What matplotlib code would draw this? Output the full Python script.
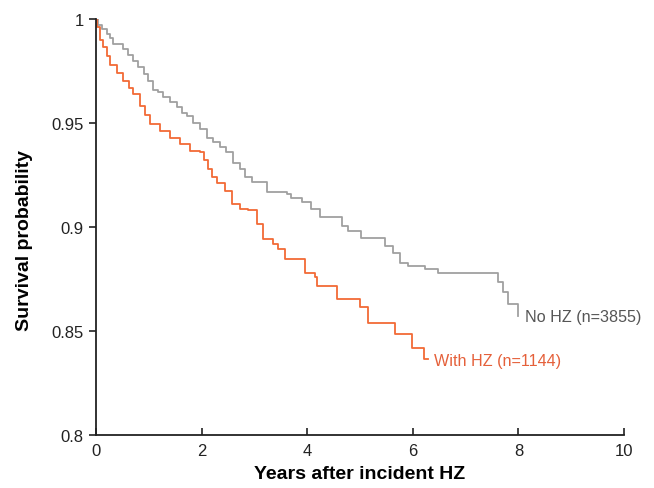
import matplotlib
matplotlib.use("Agg")
import matplotlib.pyplot as plt

plt.rcParams['font.family'] = ['Liberation Sans', 'DejaVu Sans']

# No HZ group (Kaplan-Meier step estimates)
no_hz_t = [0.0, 0.03, 0.12, 0.20, 0.27, 0.33, 0.52, 0.61, 0.71, 0.80, 0.90, 0.99,
           1.08, 1.18, 1.27, 1.40, 1.53, 1.62, 1.72, 1.84, 1.97, 2.10, 2.22, 2.35,
           2.47, 2.60, 2.73, 2.82, 2.95, 3.23, 3.61, 3.70, 3.90, 4.08, 4.24, 4.65,
           4.77, 5.02, 5.47, 5.63, 5.75, 5.90, 6.23, 6.48, 7.62, 7.70, 7.80, 7.99, 8.0]
no_hz_s = [1.0, 0.997, 0.995, 0.993, 0.991, 0.988, 0.9855, 0.9825, 0.980, 0.977, 0.9735, 0.970,
           0.966, 0.965, 0.9625, 0.960, 0.9577, 0.955, 0.9535, 0.950, 0.947, 0.943, 0.941, 0.9385,
           0.936, 0.931, 0.928, 0.924, 0.9215, 0.9167, 0.916, 0.914, 0.912, 0.9087, 0.9046, 0.9006,
           0.898, 0.8948, 0.891, 0.8875, 0.8827, 0.8814, 0.880, 0.8777, 0.8735, 0.8688, 0.863, 0.8574, 0.8574]

# With HZ group
with_hz_t = [0.0, 0.02, 0.08, 0.13, 0.20, 0.27, 0.40, 0.52, 0.62, 0.71, 0.83, 0.92,
             1.02, 1.21, 1.40, 1.59, 1.78, 1.97, 2.05, 2.12, 2.20, 2.30, 2.44, 2.57,
             2.73, 2.88, 3.04, 3.17, 3.36, 3.45, 3.58, 3.96, 4.15, 4.18, 4.56, 5.00,
             5.16, 5.66, 5.98, 6.21, 6.28]
with_hz_s = [1.0, 0.996, 0.990, 0.9865, 0.982, 0.978, 0.974, 0.970, 0.967, 0.964, 0.958, 0.954,
             0.9495, 0.9463, 0.943, 0.940, 0.9367, 0.936, 0.932, 0.928, 0.924, 0.921, 0.9175, 0.911,
             0.9087, 0.908, 0.9014, 0.894, 0.892, 0.8894, 0.8846, 0.878, 0.8758, 0.8718, 0.8654, 0.8614,
             0.854, 0.8486, 0.842, 0.8365, 0.8365]

x_ticks = [0, 2, 4, 6, 8, 10]
y_ticks = [0.8, 0.85, 0.9, 0.95, 1.0]
y_tick_labels = ["0.8", "0.85", "0.9", "0.95", "1"]

gray = "#a0a0a0"
orange = "#f26a36"

fig = plt.figure(figsize=(6.54, 4.89), dpi=100)
ax = fig.add_axes([0.1468, 0.1084, 0.8073, 0.8506])

ax.step(no_hz_t, no_hz_s, where='post', color=gray, lw=1.3)
ax.step(with_hz_t, with_hz_s, where='post', color=orange, lw=1.3)

ax.text(no_hz_t[-1] + 0.13, no_hz_s[-1] - 0.0003, "No HZ (n=3855)", color="#555555",
        fontsize=11.6, va='center', ha='left')
ax.text(with_hz_t[-1] + 0.13, with_hz_s[-1] - 0.0008, "With HZ (n=1144)", color="#e5603a",
        fontsize=11.6, va='center', ha='left')

ax.set_xlim(0, 10)
ax.set_ylim(0.8, 1.0)
ax.set_xticks(x_ticks)
ax.set_xticklabels([str(v) for v in x_ticks])
ax.set_yticks(y_ticks)
ax.set_yticklabels(y_tick_labels)
ax.tick_params(axis='x', direction='in', length=5, width=1.2, labelsize=12, pad=6, colors='#222222')
ax.tick_params(axis='y', direction='out', length=5, width=1.2, labelsize=12, pad=4, colors='#222222')
for s in ['top', 'right']:
    ax.spines[s].set_visible(False)
for s in ['left', 'bottom']:
    ax.spines[s].set_linewidth(1.3)
    ax.spines[s].set_color('#222222')

ax.set_xlabel("Years after incident HZ", fontsize=14, fontweight='bold', labelpad=5)
ax.set_ylabel("Survival probability", fontsize=14, fontweight='bold')
ax.yaxis.set_label_coords(-0.119, 0.469)

fig.savefig("out.png", dpi=100)
